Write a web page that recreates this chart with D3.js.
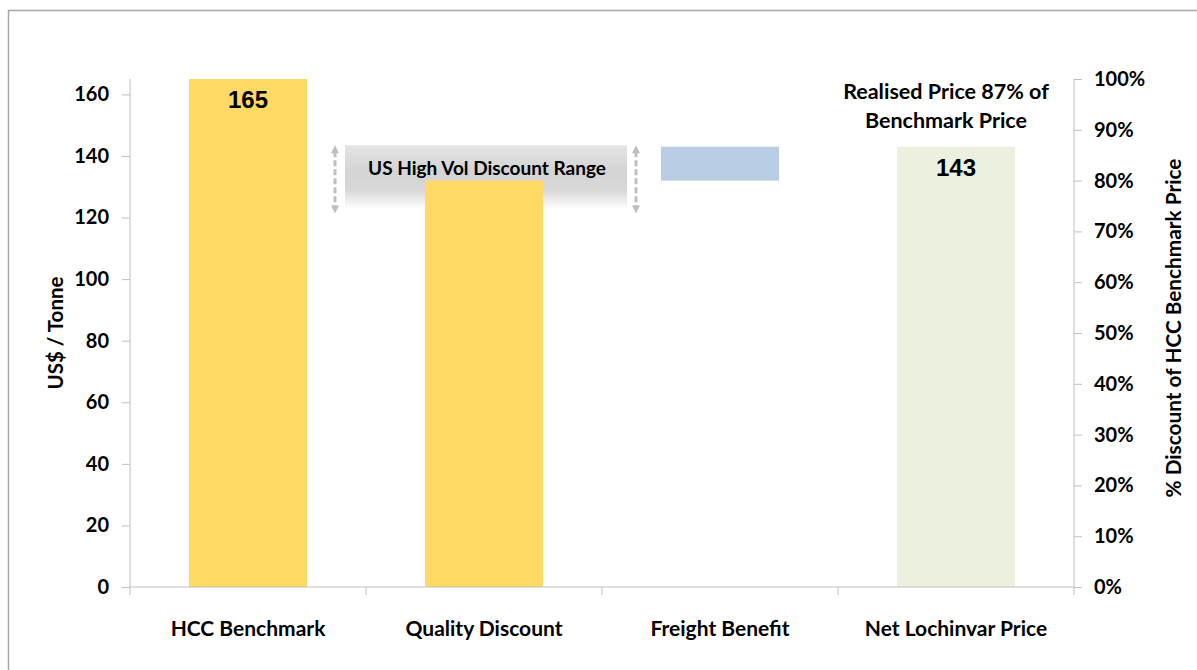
<!DOCTYPE html>
<html>
<head>
<meta charset="utf-8">
<script src="https://cdn.jsdelivr.net/npm/d3@7/dist/d3.min.js"></script>
<style>
  html, body { margin: 0; padding: 0; background: #fff; }
  svg { display: block; }
  text { font-family: Lato, "Open Sans", sans-serif; font-weight: bold; fill: #000; }
</style>
</head>
<body>
<svg id="chart" width="1197" height="670"></svg>
<script>
// ---- data ----
const categories = ["HCC Benchmark", "Quality Discount", "Freight Benefit", "Net Lochinvar Price"];
const barStart = [0, 0, 132, 0];
const barEnd = [165, 132, 143, 143];
const barColors = ["#FFD966", "#FFD966", "#B9CDE5", "#EBF1DE"];
const valueLabels = ["165", "", "", "143"];
const discountRange = [121, 143.5];
const discountLabel = "US High Vol Discount Range";
const leftTicks = [0, 20, 40, 60, 80, 100, 120, 140, 160];
const rightTicks = [0, 0.1, 0.2, 0.3, 0.4, 0.5, 0.6, 0.7, 0.8, 0.9, 1.0];
const yMax = 165;
const noteLines = ["Realised Price 87% of", "Benchmark Price"];
const leftTitle = "US$ / Tonne";
const rightTitle = "% Discount of HCC Benchmark Price";

// ---- layout ----
const svg = d3.select("#chart");
const plot = { left: 130, right: 1074, top: 79, bottom: 587 };
const axisColor = "#BFBFBF";

const x = d3.scaleBand().domain(categories).range([plot.left, plot.right]).paddingInner(0.5).paddingOuter(0.25);
const xBand = d3.scaleBand().domain(categories).range([plot.left, plot.right]);
const y = d3.scaleLinear().domain([0, yMax]).range([plot.bottom, plot.top]);
const yR = d3.scaleLinear().domain([0, 1]).range([plot.bottom, plot.top]);

// outer frame (top & left visible)
svg.append("path").attr("d", "M8.5,670 L8.5,10.5 L1197,10.5")
  .attr("fill", "none").attr("stroke", "#A6A6A6").attr("stroke-width", 1.5);

// gradient for discount band
const defs = svg.append("defs");
const grad = defs.append("linearGradient").attr("id", "bandGrad").attr("x1", 0).attr("y1", 0).attr("x2", 0).attr("y2", 1);
grad.append("stop").attr("offset", "0%").attr("stop-color", "#E4E4E4");
grad.append("stop").attr("offset", "40%").attr("stop-color", "#D4D4D4");
grad.append("stop").attr("offset", "70%").attr("stop-color", "#D8D8D8");
grad.append("stop").attr("offset", "100%").attr("stop-color", "#FFFFFF");

// discount band region spans between the two arrows
const bandX0 = xBand(categories[1]) - 21;
const bandX1 = xBand(categories[2]) + 25;
svg.append("rect")
  .attr("x", bandX0).attr("y", y(discountRange[1]))
  .attr("width", bandX1 - bandX0).attr("height", y(discountRange[0]) - y(discountRange[1]) - 5)
  .attr("fill", "url(#bandGrad)");

// arrows
[bandX0 - 10, bandX1 + 9].forEach(ax => {
  svg.append("line")
    .attr("x1", ax).attr("x2", ax)
    .attr("y1", y(discountRange[1]) + 6).attr("y2", y(discountRange[0]) - 7)
    .attr("stroke", "#BFBFBF").attr("stroke-width", 3)
    .attr("stroke-dasharray", "6,3");
  svg.append("path")
    .attr("d", `M${ax - 4},${y(discountRange[1]) + 8} L${ax},${y(discountRange[1])} L${ax + 4},${y(discountRange[1]) + 8} Z`)
    .attr("fill", "#BFBFBF");
  svg.append("path")
    .attr("d", `M${ax - 4},${y(discountRange[0]) - 9} L${ax},${y(discountRange[0]) - 1} L${ax + 4},${y(discountRange[0]) - 9} Z`)
    .attr("fill", "#BFBFBF");
});

svg.append("text")
  .attr("x", (bandX0 + bandX1) / 2 + 1).attr("y", 175)
  .attr("text-anchor", "middle").attr("font-size", 19)
  .text(discountLabel);

// bars
svg.append("g").selectAll("rect").data(categories).join("rect")
  .attr("x", d => x(d))
  .attr("width", x.bandwidth())
  .attr("y", (d, i) => y(barEnd[i]))
  .attr("height", (d, i) => y(barStart[i]) - y(barEnd[i]))
  .attr("fill", (d, i) => barColors[i]);

// value labels
svg.append("g").selectAll("text").data(categories).join("text")
  .attr("x", d => x(d) + x.bandwidth() / 2)
  .attr("y", (d, i) => y(barEnd[i]) + 29)
  .attr("text-anchor", "middle")
  .style("font-family", "'Liberation Sans', Arial, sans-serif")
  .attr("font-size", 24)
  .text((d, i) => valueLabels[i]);

// left axis
const gL = svg.append("g").attr("transform", `translate(${plot.left},0)`)
  .call(d3.axisLeft(y).tickValues(leftTicks).tickSize(8).tickPadding(13).tickSizeOuter(0));
gL.select(".domain").attr("stroke", axisColor).attr("d", `M0,${plot.bottom}V${plot.top}`);
gL.selectAll(".tick line").attr("stroke", axisColor);
gL.selectAll(".tick text").attr("font-size", 20).attr("font-family", "Lato").attr("font-weight", "bold").attr("fill", "#000");

// right axis
const gR = svg.append("g").attr("transform", `translate(${plot.right},0)`)
  .call(d3.axisRight(yR).tickValues(rightTicks).tickFormat(d3.format(".0%")).tickSize(8).tickPadding(12).tickSizeOuter(0));
gR.select(".domain").attr("stroke", axisColor).attr("d", `M0,${plot.bottom}V${plot.top}`);
gR.selectAll(".tick line").attr("stroke", axisColor);
gR.selectAll(".tick text").attr("font-size", 20).attr("font-family", "Lato").attr("font-weight", "bold").attr("fill", "#000");

// bottom axis (category boundaries as ticks)
const gB = svg.append("g").attr("transform", `translate(0,${plot.bottom})`);
gB.append("line").attr("x1", plot.left).attr("x2", plot.right).attr("stroke", axisColor);
const boundaries = categories.map(d => xBand(d)).concat([plot.right]);
gB.selectAll("line.bt").data(boundaries).join("line").attr("class", "bt")
  .attr("x1", d => d).attr("x2", d => d).attr("y1", 0).attr("y2", 8).attr("stroke", axisColor);
gB.selectAll("text").data(categories).join("text")
  .attr("x", d => xBand(d) + xBand.bandwidth() / 2)
  .attr("y", 49)
  .attr("text-anchor", "middle").attr("font-size", 21)
  .text(d => d);

// axis titles
svg.append("text")
  .attr("transform", `translate(63,${(plot.top + plot.bottom) / 2}) rotate(-90)`)
  .attr("text-anchor", "middle").attr("font-size", 20.5)
  .text(leftTitle);
svg.append("text")
  .attr("transform", `translate(1181,328) rotate(-90)`)
  .attr("text-anchor", "middle").attr("font-size", 20.8)
  .text(rightTitle);

// note above net price bar
svg.append("g").selectAll("text").data(noteLines).join("text")
  .attr("x", 946)
  .attr("y", (d, i) => 99 + i * 29)
  .attr("text-anchor", "middle").attr("font-size", 21.5)
  .text(d => d);
</script>
</body>
</html>
